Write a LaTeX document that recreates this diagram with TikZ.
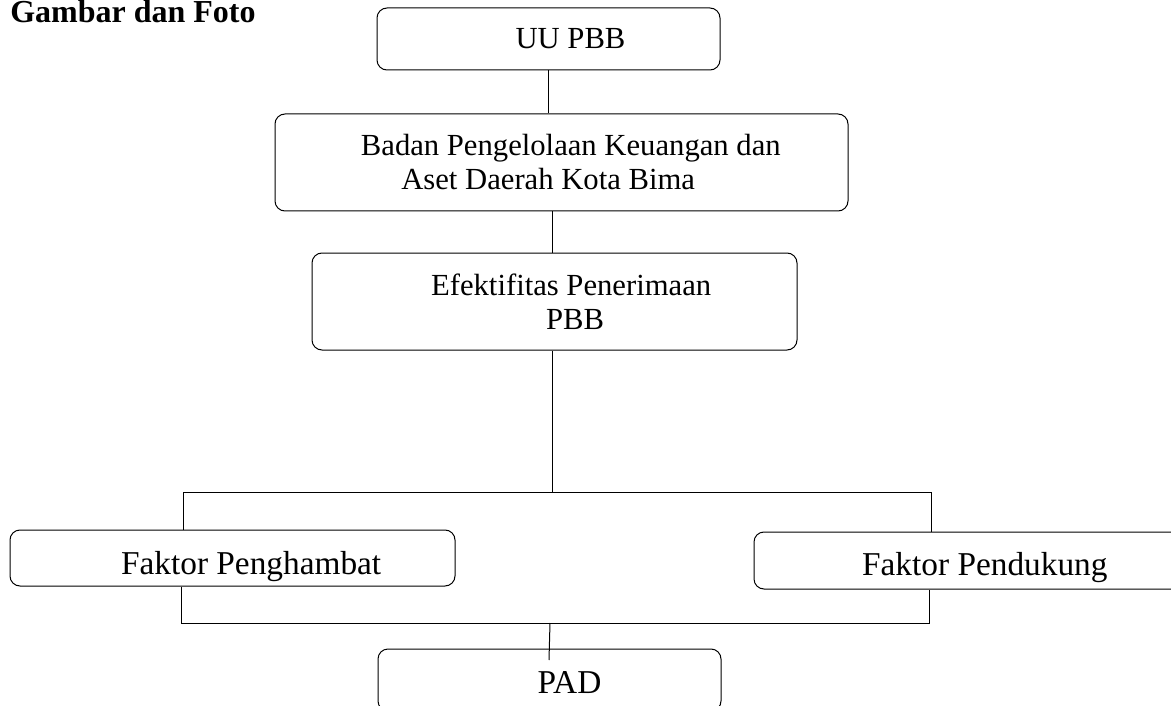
\documentclass[tikz,border=0pt]{standalone}
\usepackage{fontspec}
\setmainfont{Liberation Serif}
\begin{document}
\begin{tikzpicture}[x=0.75pt,y=0.75pt,yscale=-1,xscale=1]
        \tikzset{kotak/.style={draw, line width=0.75pt, rounded corners=7.5pt, align=center, inner sep=0pt, font=\fontsize{23}{25.5}\selectfont},
                 kotakbesar/.style={kotak, font=\fontsize{25}{28}\selectfont, text depth=0pt},
                 garis/.style={line width=0.75pt}}
        \useasboundingbox (0,0) rectangle (1171,706);

        % Text Node
        \node [anchor=base west, inner sep=0pt, font=\bfseries\fontsize{24}{26}\selectfont] (judul) at (10,23) {Gambar dan Foto};

        %Rounded Rect
        \node [kotak, minimum width=257.25pt, minimum height=46.5pt] (uupbb) at (548.5,39) {\hspace*{33pt}UU PBB};
        %Rounded Rect
        \node [kotak, minimum width=429.75pt, minimum height=72.75pt] (bpkad) at (561.5,162.5) {\hspace*{14pt}Badan Pengelolaan Keuangan dan\\Aset Daerah Kota Bima\hspace*{20pt}};
        %Rounded Rect
        \node [kotak, minimum width=363.75pt, minimum height=72.75pt] (efektif) at (554.5,301.5) {\hspace*{25pt}Efektifitas Penerimaan\\\hspace*{31pt}PBB};
        %Rounded Rect
        \node [kotakbesar, text height=24pt, minimum width=333.75pt, minimum height=42pt] (penghambat) at (232.5,558) {\hspace*{28pt}Faktor Penghambat};
        %Rounded Rect
        \node [kotakbesar, text height=22pt, minimum width=323.25pt, minimum height=42.75pt] (pendukung) at (969.5,560.5) {\hspace*{23pt}Faktor Pendukung};
        %Rounded Rect
        \node [kotakbesar, text height=20pt, minimum width=257.25pt, minimum height=46.5pt] (pad) at (549.5,680) {\hspace*{30pt}PAD};

        % branch points
        \coordinate (cabang) at (552,492);
        \coordinate (kiriatas) at (183,492);
        \coordinate (kananatas) at (931,492);
        \coordinate (kiribawah) at (181,623);
        \coordinate (kananbawah) at (929,623);
        \coordinate (gabung) at (550,623);
        \coordinate (ujung) at (549,660);

        %Straight Lines
        \draw [garis] (uupbb.south) -- (uupbb.south |- bpkad.north);
        \draw [garis] (cabang |- bpkad.south) -- (cabang |- efektif.north);
        \draw [garis] (cabang |- efektif.south) -- (cabang);
        %Straight Lines
        \draw [garis] (kiriatas) -- (kananatas);
        \draw [garis] (kiriatas) -- (kiriatas |- penghambat.north);
        \draw [garis] (kananatas) -- (kananatas |- pendukung.north);
        %Straight Lines
        \draw [garis] (kiribawah |- penghambat.south) -- (kiribawah) -- (kananbawah) -- (kananbawah |- pendukung.south);
        \draw [garis] (gabung) -- (ujung);

\end{tikzpicture}
\end{document}
